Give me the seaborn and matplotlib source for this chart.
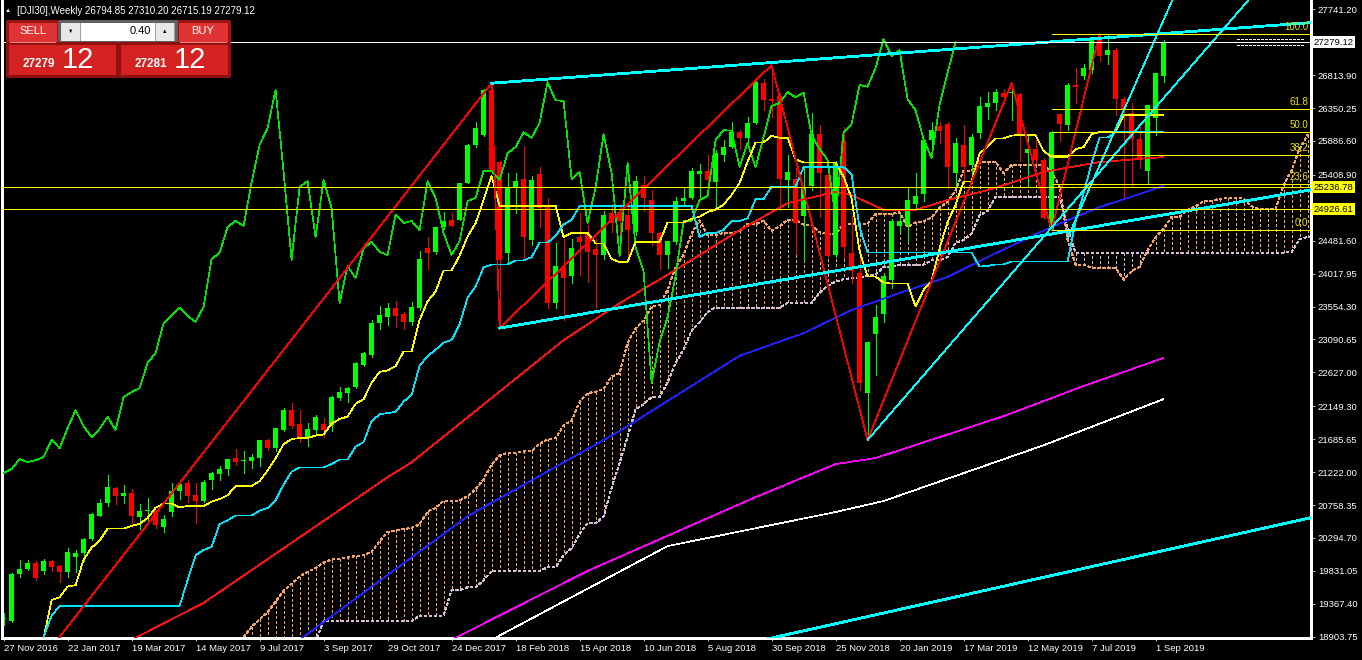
import numpy as np
import pandas as pd
import matplotlib
matplotlib.use("Agg")
import matplotlib.pyplot as plt
from matplotlib.patches import Rectangle
import seaborn as sns

# DJI30 weekly candles, first bar = week of 27 Nov 2016, last = week of 8 Sep 2019
opens = [19150, 19120, 19780, 19855, 19940, 19830, 19970, 19900, 19815, 20030,
         20080, 20280, 20605, 20790, 21000, 20890, 20930, 20590, 20670, 20675,
         20450, 20660, 20960, 21065, 20900, 20815, 21110, 21195, 21265, 21420,
         21385, 21380, 21420, 21675, 21560, 21815, 22095, 21900, 21715, 21815,
         21900, 21885, 22265, 22340, 22420, 22730, 22870, 23320, 23405, 23535,
         23450, 23340, 23535, 24380, 24320, 24675, 24775, 24775, 25295, 25830,
         25970, 26600, 25590, 24310, 25240, 25350, 24490, 25420, 24985, 23605,
         24110, 23985, 24535, 24590, 24365, 24280, 24870, 24885, 24845, 24605,
         25265, 25055, 24590, 24280, 24465, 25040, 25085, 25420, 25465, 25310,
         25690, 25800, 26010, 25930, 26140, 26700, 26475, 26520, 25335, 25350,
         24830, 25250, 25985, 25410, 24280, 25885, 24305, 24025, 22335, 23165,
         23450, 23930, 24690, 24700, 25000, 25140, 25900, 26095, 26125, 25435,
         25830, 25550, 26000, 26365, 26420, 26560, 26560, 26550, 25715, 25770,
         25620, 24635, 26265, 26110, 26680, 26800, 26885, 27320, 27095, 27165,
         26475, 26280, 25915, 25465, 26210, 26794.85]
highs = [19240, 19800, 19985, 19990, 19975, 19995, 19990, 19915, 20150, 20125,
         20300, 20640, 20840, 21180, 21010, 21040, 20985, 20770, 20860, 20690,
         20620, 21070, 21070, 21110, 21070, 21110, 21230, 21305, 21410, 21545,
         21520, 21480, 21680, 21690, 21845, 22120, 22195, 22095, 21915, 22030,
         21985, 22290, 22420, 22420, 22780, 22910, 23370, 23560, 23600, 23630,
         23480, 23620, 24330, 24535, 24680, 24885, 24870, 25300, 25840, 26155,
         26620, 26700, 25600, 25435, 25430, 25815, 25390, 25520, 25080, 24450,
         24500, 24510, 24870, 24700, 24500, 24900, 25000, 25000, 25000, 25400,
         25400, 25200, 24600, 24480, 25100, 25225, 25500, 25560, 25690, 25760,
         25900, 26155, 26040, 26225, 26770, 26760, 26955, 26560, 25690, 25500,
         25500, 26280, 26110, 25500, 25600, 26080, 24830, 24300, 23060, 23570,
         24030, 24790, 24870, 25230, 25435, 25900, 26150, 26155, 26160, 25930,
         26110, 25980, 26505, 26575, 26620, 26620, 26700, 26560, 25970, 25900,
         25650, 26030, 26270, 26700, 26910, 26970, 27330, 27398, 27380, 27190,
         26505, 26420, 26085, 26400, 26850, 27310.20]
lows = [19070, 19110, 19745, 19840, 19700, 19780, 19830, 19675, 19745, 19810,
        19970, 20260, 20600, 20750, 20770, 20790, 20480, 20420, 20520, 20430,
        20380, 20600, 20850, 20800, 20510, 20800, 20990, 21110, 21180, 21320,
        21210, 21280, 21310, 21540, 21520, 21800, 21850, 21645, 21590, 21740,
        21710, 21800, 22235, 22210, 22400, 22720, 22850, 23240, 23300, 23260,
        23240, 23300, 23500, 24080, 24290, 24650, 24690, 24770, 25290, 25800,
        25960, 25440, 23250, 24180, 24870, 24210, 24420, 24675, 23530, 23530,
        23365, 23880, 24000, 23900, 23530, 24230, 24600, 24450, 24250, 24560,
        24900, 24420, 24080, 24100, 24440, 24980, 25070, 25080, 25220, 24960,
        25600, 25790, 25780, 25800, 26120, 26320, 26225, 24910, 24950, 24300,
        24210, 25200, 24810, 24250, 24250, 24240, 23880, 22380, 21675, 22590,
        23330, 23810, 24590, 24470, 24915, 25040, 25830, 25860, 25225, 25240,
        25335, 25380, 25930, 26200, 26320, 26420, 26180, 25600, 25240, 25580,
        24790, 24630, 25885, 26040, 26420, 26760, 26850, 27020, 26970, 26250,
        25100, 25240, 25505, 25280, 25970, 26715.19]
closes = [19170, 19790, 19855, 19940, 19735, 19970, 19885, 19815, 20095, 20080,
          20280, 20630, 20790, 21010, 20885, 20930, 20605, 20675, 20670, 20475,
          20560, 20955, 21050, 20890, 20815, 21080, 21210, 21265, 21405, 21365,
          21390, 21435, 21675, 21560, 21840, 22095, 21870, 21715, 21830, 22000,
          21815, 22280, 22350, 22405, 22760, 22900, 23320, 23435, 23535, 23420,
          23340, 23550, 24225, 24310, 24675, 24760, 24690, 25300, 25830, 26070,
          26605, 25450, 24210, 25240, 25320, 24535, 25335, 24940, 23605, 24125,
          23955, 24380, 24465, 24325, 24280, 24850, 24730, 24760, 24630, 25320,
          25085, 24590, 24280, 24475, 25040, 25085, 25460, 25465, 25335, 25715,
          25800, 26010, 25930, 26140, 26715, 26460, 26450, 25350, 25450, 24730,
          25230, 25985, 25435, 24265, 25575, 24395, 24055, 22475, 23055, 23405,
          23985, 24760, 24760, 25055, 25110, 25900, 26040, 26030, 25520, 25860,
          25520, 25940, 26380, 26420, 26575, 26500, 26570, 25970, 25775, 25620,
          24800, 26010, 26125, 26675, 26650, 26915, 27320, 27085, 27165, 26475,
          26320, 25915, 25645, 26395, 26845, 27279.12]

date_ticks = list(range(0, 145, 8))
date_labels = ["27 Nov 2016", "22 Jan 2017", "19 Mar 2017", "14 May 2017", "9 Jul 2017",
               "3 Sep 2017", "29 Oct 2017", "24 Dec 2017", "18 Feb 2018", "15 Apr 2018",
               "10 Jun 2018", "5 Aug 2018", "30 Sep 2018", "25 Nov 2018", "20 Jan 2019",
               "17 Mar 2019", "12 May 2019", "7 Jul 2019", "1 Sep 2019"]
price_ticks = [27741.20, 26813.90, 26350.25, 25886.60, 25408.90, 24481.60, 24017.95,
               23554.30, 23090.65, 22627.00, 22149.30, 21685.65, 21222.00, 20758.35,
               20294.70, 19831.05, 19367.40, 18903.75]

# ichimoku values at the left edge, where the indicator used bars before the first one shown
early_tenkan_wk = [5, 6, 7]
early_tenkan_px = [18880, 19420, 19460]
early_kijun_wk = list(range(5, 25))
early_kijun_px = [18900, 19200] + [19335] * 16 + [19700, 20050]
early_span_a = [18300, 18450, 18600, 18750, 18900, 19040, 19150, 19250, 19400, 19550,
                19650, 19750, 19820, 19870, 19950, 19990, 20000, 20020, 20040, 20050,
                20100, 20250, 20380, 20400, 20420]
early_span_b = ([17700] * 11 + [18850] * 3 + [19120] * 12 + [19200] * 4 + [19560] * 2
                + [19600] * 2 + [19700] + [19830] * 7 + [19880] * 2 + [20050, 20150, 20350]
                + [20500] * 2 + [20600, 21000])

# long moving averages (week index, price)
red_ma_wk = [16, 25, 48, 51, 70, 77, 84, 92, 98, 104, 106, 110, 114, 118, 123, 127, 130, 137, 145]
red_ma_px = [18860, 19380, 21150, 21360, 23080, 23600, 24070, 24630, 25010, 25170, 25125,
             24915, 24915, 25055, 25195, 25335, 25450, 25590, 25660]
blue_ma_wk = [37, 58, 77, 92, 100, 106, 112, 118, 123, 127, 131, 137, 145]
blue_ma_px = [18860, 20600, 21800, 22860, 23180, 23505, 23745, 23970, 24250, 24465, 24675, 24955, 25250]
magenta_ma_wk = [56, 73, 94, 104, 109, 125, 135, 145]
magenta_ma_px = [18860, 19830, 20870, 21335, 21420, 22010, 22435, 22830]
white_ma_wk = [61, 83, 104, 110, 130, 145]
white_ma_px = [18860, 20180, 20660, 20815, 21600, 22250]

# zigzag pivots
zigzag_wk = [-2, 61, 62, 96, 108, 126, 131, 137]
zigzag_px = [17600, 26700, 23250, 26955, 21675, 26700, 24630, 27398]

# trend lines: two anchors each (week, price), extended to the right
trend_wk = [(61, 145), (62, 145), (95, 163), (108, 145), (133, 145)]
trend_px = [(26700, 27400), (23250, 24845), (18860, 20570), (21675, 26490), (24520, 27590)]
trend_width = [1.3, 1.3, 1.3, 0.5, 0.5]

fib_levels = [0.0, 23.6, 38.2, 50.0, 61.8, 100.0]
fib_low, fib_high, fib_start = 24630, 27398, 131
yellow_levels = [25236.78, 24926.61]
last_price = 27279.12
bid_text, ask_text = ("27279", "12"), ("27281", "12")

sns.set_theme(style="dark", rc={
    "axes.facecolor": "black", "figure.facecolor": "black",
    "axes.edgecolor": "white", "axes.grid": False,
    "xtick.color": "white", "ytick.color": "white",
    "xtick.bottom": True, "ytick.right": True,
    "lines.antialiased": False, "patch.antialiased": False,
})
plt.rcParams["font.family"] = ["Liberation Sans", "DejaVu Sans"]

df = pd.DataFrame({"week": np.arange(len(closes)), "open": opens, "high": highs,
                   "low": lows, "close": closes})

fig = plt.figure(figsize=(13.62, 6.6), dpi=100)
ax = fig.add_axes([2 / 1362, 22 / 660, 1309 / 1362, 638 / 660])
ax.set_facecolor("black")

# ichimoku from the candles
hi, lo = df["high"], df["low"]
def mid(n, mp=None):
    return (hi.rolling(n, min_periods=mp).max() + lo.rolling(n, min_periods=mp).min()) / 2
tenkan = pd.concat([pd.Series(early_tenkan_px, index=early_tenkan_wk), mid(9).dropna()])
kijun = pd.concat([pd.Series(early_kijun_px, index=early_kijun_wk), mid(26).dropna()])
span_a = ((mid(9, 1) + mid(26, 1)) / 2).values
span_b = mid(52, 1).values
span_a[:len(early_span_a)] = early_span_a
span_b[:len(early_span_b)] = early_span_b
cloud_wk = df["week"] + 26
dots = (0, (4, 3.5))

cloud_col = np.where(span_a >= span_b, "#F4A460", "#D8BFD8")
ax.vlines(cloud_wk, span_a, span_b, colors=cloud_col, linestyles=[dots], lw=0.5, zorder=1)
sns.lineplot(x=cloud_wk, y=span_a, ax=ax, color="#F4A460", lw=0.5, linestyle=dots, zorder=1)
sns.lineplot(x=cloud_wk, y=span_b, ax=ax, color="#D8BFD8", lw=0.5, linestyle=dots, zorder=1)

# candles
up = df["close"] >= df["open"]
col = np.where(up, "#00FF00", "#FF0000")
ax.vlines(df["week"], df["low"], df["high"], colors=col, lw=0.5, zorder=2)
body = (df["close"] - df["open"]).abs().clip(lower=12)
ax.bar(df["week"], body, bottom=np.minimum(df["open"], df["close"]), width=0.62,
       color=col, lw=0, zorder=2)

# moving averages
for wk, px, c in [(red_ma_wk, red_ma_px, "#FF1010"), (blue_ma_wk, blue_ma_px, "#2020FF"),
                  (magenta_ma_wk, magenta_ma_px, "#FF00FF"), (white_ma_wk, white_ma_px, "white")]:
    sns.lineplot(x=wk, y=px, ax=ax, color=c, lw=0.5, sort=False, estimator=None, zorder=3)

# ichimoku lines
sns.lineplot(x=df["week"][:-26], y=df["close"][26:].values, ax=ax, color="#00E600", lw=0.5, zorder=3)
sns.lineplot(x=tenkan.index, y=tenkan.values, ax=ax, color="#FFFF00", lw=0.5, zorder=3)
sns.lineplot(x=kijun.index, y=kijun.values, ax=ax, color="#00E5FF", lw=0.5, zorder=3)

# zigzag and trend lines
sns.lineplot(x=zigzag_wk, y=zigzag_px, ax=ax, color="#FF0000", lw=0.5, sort=False,
             estimator=None, zorder=4)
for (w1, w2), (p1, p2), lw in zip(trend_wk, trend_px, trend_width):
    slope = (p2 - p1) / (w2 - w1)
    sns.lineplot(x=[w1, 175], y=[p1, p1 + slope * (175 - w1)], ax=ax, color="#00FFFF",
                 lw=lw, sort=False, estimator=None, zorder=4)

# horizontal levels
ax.axhline(last_price, color="white", lw=0.5, zorder=4)
for lvl in yellow_levels:
    ax.axhline(lvl, color="#FFFF00", lw=0.5, zorder=4)
fib_prices = [fib_low + f / 100 * (fib_high - fib_low) for f in fib_levels]
ax.hlines(fib_prices, fib_start, 175, colors="#FFFF00", lw=0.5, zorder=4)
for f, p in zip(fib_levels, fib_prices):
    ax.text(0.998, p + 25, f"{f:.1f}", transform=ax.get_yaxis_transform(), ha="right",
            va="bottom", color="#E6E600", fontsize=7, zorder=6)
ax.hlines([27323, 27238], 154.2, 162.6, colors="white", linestyles=[(0, (4, 2.5))], lw=0.5, zorder=4)

# axes
ax.set_xlim(-0.2, 163.43)
ax.set_ylim(18885.5, 27872.2)
ax.set_xlabel("")
ax.set_ylabel("")
ax.set_xticks(date_ticks)
ax.set_xticklabels(date_labels)
for lbl in ax.get_xticklabels():
    lbl.set_horizontalalignment("left")
ax.yaxis.tick_right()
ax.set_yticks(price_ticks)
ax.set_yticklabels([f"{p:.2f}" for p in price_ticks])
ax.tick_params(axis="x", length=2.5, width=0.5, pad=1.5, labelsize=6.8, colors="white")
ax.tick_params(axis="y", length=3, width=0.5, pad=2, labelsize=6.8, colors="white")
ax.spines["top"].set_visible(False)
for s in ["left", "right", "bottom"]:
    ax.spines[s].set_color("white")
    ax.spines[s].set_linewidth(0.75)

for price, face in [(last_price, "white"), (yellow_levels[0], "#FFFF00"), (yellow_levels[1], "#FFFF00")]:
    ax.text(1.0018, price, f"{price:.2f}", transform=ax.get_yaxis_transform(), ha="left",
            va="center", fontsize=6.8, color="black", clip_on=False, zorder=10,
            bbox=dict(boxstyle="square,pad=0.18", fc=face, ec="none"))

# one-click trading panel and title
ov = fig.add_axes([0, 0, 1, 1], zorder=20)
ov.set_xlim(0, 1362)
ov.set_ylim(660, 0)
ov.axis("off")
ov.text(5, 10, "\u25b2", color="white", fontsize=4.5, va="center")
ov.text(17, 10.5, f"[DJI30],Weekly {opens[-1]:.2f} {highs[-1]:.2f} {lows[-1]:.2f} {closes[-1]:.2f}",
        color="white", fontsize=7, va="center")
for x0, w in [(7, 51), (177, 52)]:
    ov.add_patch(Rectangle((x0, 21), w, 22, fc="#E03434", ec="#9A1414", lw=0.75))
    ov.plot([x0 + 3, x0 + w - 3], [41.5, 41.5], color="#F08080", lw=0.5)
ov.text(32.5, 31, "SELL", color="white", fontsize=8, ha="center", va="center")
ov.text(203, 31, "BUY", color="white", fontsize=8, ha="center", va="center")
ov.add_patch(Rectangle((59, 21), 117, 21, fc="#A0A0A0", ec="#606060", lw=0.75))
ov.add_patch(Rectangle((61, 22.5), 19, 18, fc="#E8E8E8", ec="none"))
ov.add_patch(Rectangle((81, 22.5), 74, 18, fc="white", ec="none"))
ov.add_patch(Rectangle((156, 22.5), 18, 18, fc="#E8E8E8", ec="none"))
ov.text(70.5, 31.5, "\u25bc", color="black", fontsize=4, ha="center", va="center")
ov.text(165, 31.5, "\u25b2", color="black", fontsize=4, ha="center", va="center")
ov.text(151, 31.5, "0.40", color="black", fontsize=8, ha="right", va="center")
for x0, (big, small) in [(7, bid_text), (119, ask_text)]:
    ov.add_patch(Rectangle((x0, 43), 110, 33, fc="#D42222", ec="#8E1010", lw=0.75))
    ov.text(x0 + 16, 64, big, color="white", fontsize=8.5, fontweight="bold", ha="left", va="center")
    ov.text(x0 + 55, 59.5, small, color="white", fontsize=21, ha="left", va="center")

fig.savefig("out.png", dpi=100, facecolor="black")
